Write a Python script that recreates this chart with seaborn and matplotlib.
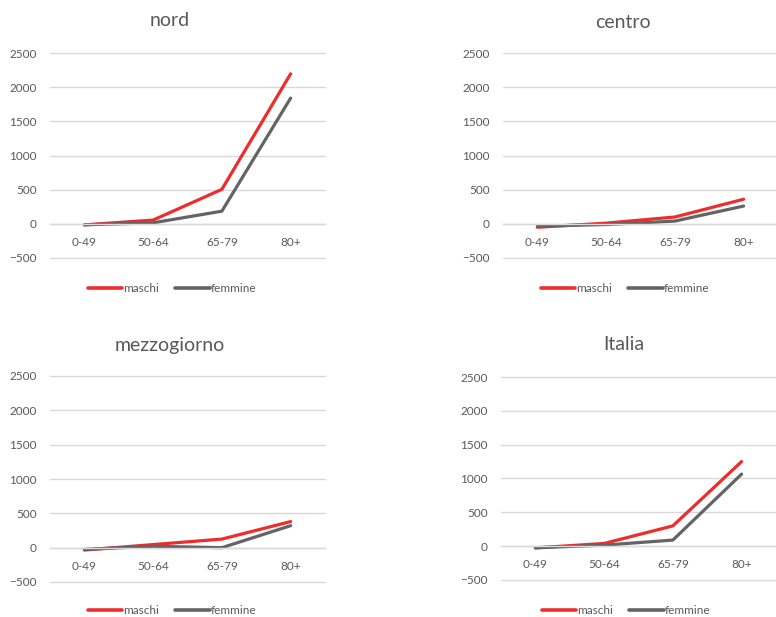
import matplotlib
matplotlib.use("Agg")
import matplotlib.pyplot as plt
import seaborn as sns
import pandas as pd

categories = ["0-49", "50-64", "65-79", "80+"]
regions = ["nord", "centro", "mezzogiorno", "Italia"]
nord_maschi = [-15, 55, 505, 2195]
nord_femmine = [-15, 15, 185, 1840]
centro_maschi = [-50, 10, 100, 360]
centro_femmine = [-35, -10, 40, 260]
mezz_maschi = [-35, 45, 125, 380]
mezz_femmine = [-25, 20, 0, 320]
italia_maschi = [-25, 40, 300, 1250]
italia_femmine = [-25, 15, 90, 1065]
series_names = ["maschi", "femmine"]

data = {
    "nord": (nord_maschi, nord_femmine),
    "centro": (centro_maschi, centro_femmine),
    "mezzogiorno": (mezz_maschi, mezz_femmine),
    "Italia": (italia_maschi, italia_femmine),
}

rows = []
for reg, (m, f) in data.items():
    for c, v in zip(categories, m):
        rows.append({"regione": reg, "eta": c, "sesso": "maschi", "valore": v})
    for c, v in zip(categories, f):
        rows.append({"regione": reg, "eta": c, "sesso": "femmine", "valore": v})
df = pd.DataFrame(rows)

sns.set_theme(style="white")
plt.rcParams["font.family"] = ["Lato", "DejaVu Sans"]

W, H = 776, 617
fig = plt.figure(figsize=(W / 100, H / 100), dpi=100)
fig.patch.set_facecolor("white")

palette = {"maschi": "#EE2C2C", "femmine": "#646464"}
txt = "#595959"
grid = "#D9D9D9"

# (left, right, top(2500), bottom(-500), title_x, title_y, legend_x, legend_y)
layout = {
    "nord": (50, 325, 53, 258, 170, 21, 172, 289),
    "centro": (503, 778, 53, 258, 623, 22, 625, 289),
    "mezzogiorno": (50, 325, 376, 582, 170, 345, 172, 611),
    "Italia": (501, 776, 377, 580, 624, 344, 626, 611),
}

for reg in regions:
    l, r, t, b, tx, ty, lx, ly = layout[reg]
    ax = fig.add_axes([l / W, (H - b) / H, (r - l) / W, (b - t) / H])
    sub = df[df["regione"] == reg]
    sns.lineplot(data=sub, x="eta", y="valore", hue="sesso", hue_order=series_names,
                 palette=palette, linewidth=2.3, sort=False, ax=ax, legend=False)
    ax.set_xlim(-0.5, 3.5)
    ax.set_ylim(-500, 2500)
    ax.set_yticks([-500, 0, 500, 1000, 1500, 2000, 2500])
    ax.set_xticks(range(4))
    ax.set_xticklabels(categories)
    ax.set_xlabel("")
    ax.set_ylabel("")
    ax.grid(axis="y", color=grid, linewidth=1)
    for gl in ax.get_ygridlines():
        gl.set_clip_on(False)
    ax.set_axisbelow(True)
    for s in ["top", "right", "left"]:
        ax.spines[s].set_visible(False)
    ax.spines["bottom"].set_position(("data", 0))
    ax.spines["bottom"].set_color(grid)
    ax.spines["bottom"].set_linewidth(1)
    ax.tick_params(axis="y", length=0, pad=9.5, labelsize=8.5, labelcolor=txt)
    ax.tick_params(axis="x", length=0, pad=9.5, labelsize=8.5, labelcolor=txt)
    ax.set_facecolor("none")
    fig.text(tx / W, (H - ty) / H, reg, ha="center", va="center", fontsize=14, color=txt)
    handles = [plt.Line2D([], [], color=palette[s], linewidth=2.6) for s in series_names]
    fig.legend(handles, series_names, loc="center", bbox_to_anchor=(lx / W, (H - ly) / H),
               ncol=2, frameon=False, fontsize=8.5, labelcolor=txt, handlelength=2.9,
               handletextpad=0.1, columnspacing=1.4)

fig.savefig("out.png", dpi=100, facecolor="white")
